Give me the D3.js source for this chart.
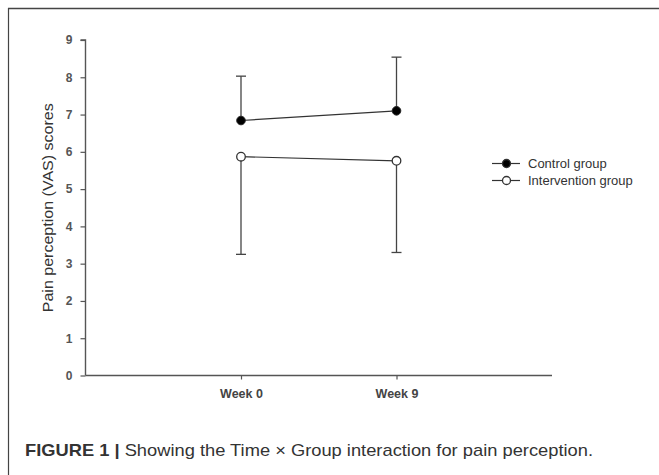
<!DOCTYPE html>
<html><head><meta charset="utf-8">
<script src="https://cdn.jsdelivr.net/npm/d3@7"></script>
<style>html,body{margin:0;padding:0;background:#fff;}svg{display:block;}</style>
</head><body>
<script>
const categories = ["Week 0", "Week 9"];
const controlMean = [6.84, 7.10];
const controlUpper = [8.03, 8.54];
const interventionMean = [5.87, 5.76];
const interventionLower = [3.25, 3.30];
const yTicks = [0,1,2,3,4,5,6,7,8,9];
const seriesNames = ["Control group", "Intervention group"];

const W = 659, H = 475;
const svg = d3.select("body").append("svg").attr("width", W).attr("height", H);
const font = "Liberation Sans, Arial, sans-serif";

// frame
svg.append("line").attr("x1",8).attr("x2",W).attr("y1",8.5).attr("y2",8.5).attr("stroke","#444").attr("stroke-width",1.6);
svg.append("line").attr("x1",8.5).attr("x2",8.5).attr("y1",8).attr("y2",H).attr("stroke","#444").attr("stroke-width",1.2);

const x = d3.scaleLinear().domain([-1, 2]).range([85.5, 552]);
const y = d3.scaleLinear().domain([0, 9]).range([375.5, 40]);

// y axis
const ya = svg.append("g").attr("transform","translate(85.5,0)")
  .call(d3.axisLeft(y).tickValues(yTicks).tickSize(5).tickPadding(8).tickFormat(d3.format("d")));
ya.select(".domain").attr("stroke","#555").attr("stroke-width",1.4).attr("d", `M-5,${y(9)}H0V${y(0)}`);
ya.selectAll(".tick line").attr("stroke","#555").attr("stroke-width",1.2);
ya.selectAll(".tick text").attr("font-family",font).attr("font-size",12).attr("font-weight","bold").attr("fill","#555");

// x axis
const xa = svg.append("g").attr("transform",`translate(0,${y(0)})`)
  .call(d3.axisBottom(x).tickValues([0,1]).tickSize(4).tickPadding(10).tickFormat(i => categories[i]));
xa.select(".domain").attr("stroke","#555").attr("stroke-width",1.4).attr("d", `M${x(-1)},0H${x(2)}`);
xa.selectAll(".tick line").attr("stroke","#555").attr("stroke-width",1.2);
xa.selectAll(".tick text").attr("font-family",font).attr("font-size",12.5).attr("font-weight","bold").attr("fill","#444");

// y label
svg.append("text").attr("transform",`translate(53,${(y(0)+y(9))/2}) rotate(-90)`)
  .attr("text-anchor","middle").attr("font-family",font).attr("font-size",14).attr("fill","#333")
  .attr("textLength",209).attr("lengthAdjust","spacingAndGlyphs")
  .text("Pain perception (VAS) scores");

const idx = [0,1];
const g = svg.append("g");
const capW = 5;
// error bars
idx.forEach(i => {
  g.append("line").attr("x1",x(i)).attr("x2",x(i)).attr("y1",y(controlMean[i])).attr("y2",y(controlUpper[i])).attr("stroke","#444").attr("stroke-width",1.3);
  g.append("line").attr("x1",x(i)-capW).attr("x2",x(i)+capW).attr("y1",y(controlUpper[i])).attr("y2",y(controlUpper[i])).attr("stroke","#444").attr("stroke-width",1.3);
  g.append("line").attr("x1",x(i)).attr("x2",x(i)).attr("y1",y(interventionMean[i])).attr("y2",y(interventionLower[i])).attr("stroke","#444").attr("stroke-width",1.3);
  g.append("line").attr("x1",x(i)-capW).attr("x2",x(i)+capW).attr("y1",y(interventionLower[i])).attr("y2",y(interventionLower[i])).attr("stroke","#444").attr("stroke-width",1.3);
});
const line = d3.line().x((d,i)=>x(i)).y(d=>y(d));
g.append("path").attr("d",line(controlMean)).attr("fill","none").attr("stroke","#333").attr("stroke-width",1.2);
g.append("path").attr("d",line(interventionMean)).attr("fill","none").attr("stroke","#333").attr("stroke-width",1.2);
g.selectAll(".cm").data(controlMean).enter().append("circle").attr("cx",(d,i)=>x(i)).attr("cy",d=>y(d)).attr("r",4.3).attr("fill","#000").attr("stroke","#222");
g.selectAll(".im").data(interventionMean).enter().append("circle").attr("cx",(d,i)=>x(i)).attr("cy",d=>y(d)).attr("r",4.3).attr("fill","#fff").attr("stroke","#333").attr("stroke-width",1.3);

// legend
const lg = svg.append("g");
seriesNames.forEach((name, k) => {
  const yy = 163.5 + k*17;
  lg.append("line").attr("x1",492).attr("x2",520).attr("y1",yy).attr("y2",yy).attr("stroke","#333").attr("stroke-width",1.2);
  lg.append("circle").attr("cx",506.5).attr("cy",yy).attr("r",4).attr("fill",k===0?"#000":"#fff").attr("stroke","#333").attr("stroke-width",1.3);
  lg.append("text").attr("x",528).attr("y",yy+4.5).attr("font-family",font).attr("font-size",13).attr("fill","#333").text(name);
});

// caption
const cap = svg.append("text").attr("x",25).attr("y",456).attr("font-family",font).attr("font-size",17).attr("fill","#333")
  .attr("textLength",568).attr("lengthAdjust","spacingAndGlyphs");
cap.append("tspan").attr("font-weight","bold").text("FIGURE 1 | ");
cap.append("tspan").text("Showing the Time \u00d7 Group interaction for pain perception.");
</script>
</body></html>
